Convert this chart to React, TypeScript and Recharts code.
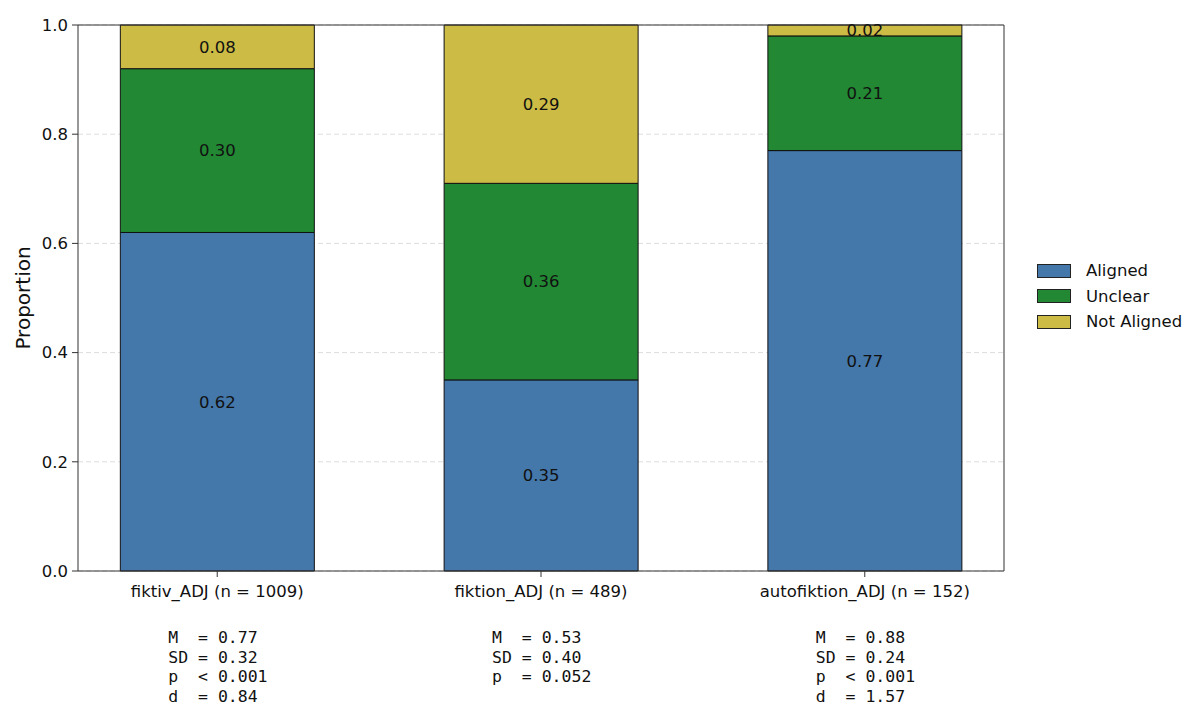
import { Bar, ComposedChart, XAxis, YAxis, CartesianGrid, LabelList, Label, ReferenceLine } from 'recharts';

const categories = ['fiktiv_ADJ', 'fiktion_ADJ', 'autofiktion_ADJ'];
const counts = [1009, 489, 152];
const aligned = [0.62, 0.35, 0.77];
const unclear = [0.3, 0.36, 0.21];
const notAligned = [0.08, 0.29, 0.02];

const statM = ['0.77', '0.53', '0.88'];
const statSD = ['0.32', '0.40', '0.24'];
const statP = ['< 0.001', '= 0.052', '< 0.001'];
const statD = ['0.84', '', '1.57'];

const yTicks = [0, 0.2, 0.4, 0.6, 0.8, 1.0];
const xDomain: [number, number] = [-0.43, 2.43];

const series = [
  { key: 'aligned', name: 'Aligned', color: '#4477AA' },
  { key: 'unclear', name: 'Unclear', color: '#228833' },
  { key: 'notAligned', name: 'Not Aligned', color: '#CCBB44' },
];

const data = categories.map((name, i) => ({
  pos: i,
  name,
  aligned: aligned[i],
  unclear: unclear[i],
  notAligned: notAligned[i],
}));

const FONT = 'DejaVu Sans, sans-serif';
const MONO = 'DejaVu Sans Mono, monospace';

function CategoryTick(props: any) {
  const { x, y, payload } = props;
  const i = payload.value as number;
  const lines = [`M  = ${statM[i]}`, `SD = ${statSD[i]}`, `p  ${statP[i]}`];
  if (statD[i]) lines.push(`d  = ${statD[i]}`);
  return (
    <g>
      <text x={x} y={y + 18} textAnchor="middle" fontFamily={FONT} fontSize={16.5} fill="#111">
        {`${categories[i]} (n = ${counts[i]})`}
      </text>
      {lines.map((line, k) => (
        <text
          key={k}
          x={x - 49}
          y={y + 64 + k * 19.7}
          fontFamily={MONO}
          fontSize={16.5}
          fill="#111"
          style={{ whiteSpace: 'pre' }}
        >
          {line}
        </text>
      ))}
    </g>
  );
}

function renderYLabel(props: any) {
  const vb = props.viewBox;
  const cy = vb.y + vb.height / 2;
  return (
    <text
      x={23}
      y={cy}
      transform={`rotate(-90, 23, ${cy})`}
      textAnchor="middle"
      dominantBaseline="central"
      fontFamily={FONT}
      fontSize={20}
      fill="#111"
    >
      Proportion
    </text>
  );
}

function LegendBox() {
  return (
    <div style={{ position: 'absolute', left: 1037, top: 258, fontFamily: FONT, fontSize: 16.5, color: '#111' }}>
      {series.map((s) => (
        <div key={s.key} style={{ display: 'flex', alignItems: 'center', height: 25.5 }}>
          <span
            style={{
              display: 'inline-block',
              width: 32,
              height: 12,
              background: s.color,
              border: '1px solid #222',
              marginRight: 15,
            }}
          />
          <span>{s.name}</span>
        </div>
      ))}
    </div>
  );
}

export default function App() {
  return (
    <div style={{ position: 'absolute', left: 0, top: 0, width: 1200, height: 723, background: '#fff' }}>
      <ComposedChart
        width={1200}
        height={723}
        data={data}
        margin={{ top: 25, right: 196, bottom: 0, left: 0 }}
      >
        <CartesianGrid horizontal vertical={false} stroke="#dddddd" strokeDasharray="5 3" />
        <XAxis
          type="number"
          dataKey="pos"
          domain={xDomain}
          ticks={[0, 1, 2]}
          allowDataOverflow
          height={152}
          tickSize={6}
          tickMargin={2}
          stroke="#333"
          tick={<CategoryTick />}
        />
        <YAxis
          type="number"
          domain={[0, 1]}
          ticks={yTicks}
          width={78}
          tickSize={6}
          tickMargin={4}
          stroke="#333"
          tick={{ fontFamily: FONT, fontSize: 16.5, fill: '#111' }}
          tickFormatter={(v: number) => v.toFixed(1)}
        >
          <Label content={renderYLabel} />
        </YAxis>
        {series.map((s) => (
          <Bar
            key={s.key}
            dataKey={s.key}
            name={s.name}
            stackId="a"
            fill={s.color}
            stroke="#111"
            strokeWidth={1}
            barSize={194}
            isAnimationActive={false}
          >
            <LabelList
              dataKey={s.key}
              position="center"
              formatter={(v: number) => v.toFixed(2)}
              style={{ fontFamily: FONT, fontSize: 16.5, fill: '#111' }}
            />
          </Bar>
        ))}
        <ReferenceLine y={1} stroke="#333" strokeWidth={1} ifOverflow="extendDomain" />
        <ReferenceLine x={xDomain[1]} stroke="#333" strokeWidth={1} ifOverflow="extendDomain" />
      </ComposedChart>
      <LegendBox />
    </div>
  );
}
